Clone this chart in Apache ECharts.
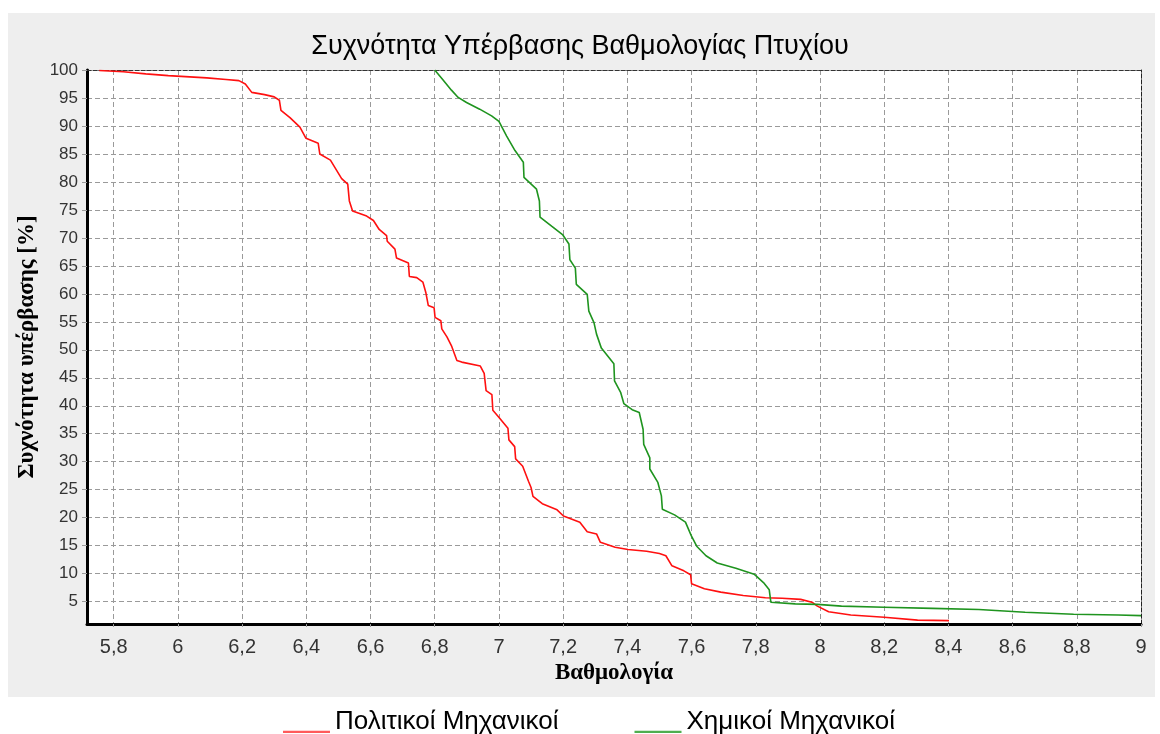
<!DOCTYPE html>
<html>
<head>
<meta charset="utf-8">
<script src="https://cdn.jsdelivr.net/npm/echarts/dist/echarts.min.js"></script>
<style>
  html, body { margin: 0; padding: 0; background: #fff; }
  #panel { position: absolute; left: 8px; top: 13px; width: 1147px; height: 684px; background: #eeeeee; }
  #chart { position: absolute; left: 0; top: 0; width: 1160px; height: 734px; }
</style>
</head>
<body>
<div id="panel"></div>
<div id="chart"></div>
<script>
// Πολιτικοί Μηχανικοί (red)
const redGrade = [5.755, 5.83, 5.90, 5.97, 6.09, 6.15, 6.19, 6.21, 6.23, 6.27, 6.30, 6.316, 6.321, 6.349, 6.38, 6.399,
  6.437, 6.442, 6.475, 6.51, 6.529, 6.534, 6.544, 6.588, 6.609, 6.627, 6.65, 6.652, 6.676, 6.681, 6.718, 6.721,
  6.744, 6.763, 6.772, 6.78, 6.798, 6.801, 6.819, 6.822, 6.838, 6.853, 6.869, 6.884, 6.942, 6.954, 6.96, 6.978,
  6.981, 6.999, 7.028, 7.031, 7.049, 7.052, 7.074, 7.092, 7.1, 7.106, 7.135, 7.181, 7.201, 7.252, 7.275, 7.304,
  7.316, 7.362, 7.402, 7.46, 7.5, 7.52, 7.539, 7.576, 7.597, 7.6, 7.64, 7.691, 7.761, 7.83, 7.882, 7.94,
  7.975, 7.992, 8.027, 8.096, 8.2, 8.304, 8.402];
const redPct = [99.9, 99.7, 99.3, 99.0, 98.6, 98.3, 98.1, 97.5, 96.0, 95.6, 95.2, 94.6, 92.8, 91.5, 89.8, 87.8,
  86.9, 85.0, 83.9, 80.6, 79.6, 76.6, 74.8, 73.9, 73.1, 71.5, 70.4, 69.4, 68.0, 66.4, 65.5, 63.1,
  62.9, 62.1, 60.3, 57.9, 57.5, 55.8, 55.2, 53.75, 52.3, 50.6, 48.1, 47.8, 47.1, 45.8, 42.7, 42.0,
  39.2, 38.0, 36.0, 33.9, 32.7, 30.5, 29.2, 26.5, 25.4, 23.8, 22.5, 21.4, 20.3, 19.2, 17.5, 17.1,
  15.6, 14.7, 14.3, 14.0, 13.6, 13.2, 11.4, 10.5, 9.8, 8.2, 7.3, 6.7, 6.1, 5.7, 5.6, 5.4,
  4.9, 4.2, 3.2, 2.6, 2.2, 1.7, 1.6];

// Χημικοί Μηχανικοί (green)
const greenGrade = [6.8, 6.826, 6.852, 6.873, 6.899, 6.94, 6.977, 7.0, 7.024, 7.05, 7.076, 7.078, 7.117, 7.126, 7.128, 7.164,
  7.198, 7.218, 7.221, 7.238, 7.241, 7.275, 7.28, 7.296, 7.304, 7.319, 7.358, 7.36, 7.379, 7.389, 7.415, 7.437,
  7.449, 7.451, 7.47, 7.47, 7.495, 7.506, 7.509, 7.547, 7.581, 7.599, 7.616, 7.645, 7.68, 7.738, 7.795, 7.824,
  7.842, 7.847, 7.923, 7.992, 8.067, 8.2, 8.35, 8.495, 8.639, 8.79, 8.929, 9.0];
const greenPct = [100, 98.2, 96.4, 95.1, 94.2, 93.0, 91.8, 90.8, 88.2, 85.6, 83.5, 80.8, 78.7, 76.6, 73.7, 72.1,
  70.6, 68.9, 66.1, 64.6, 61.7, 59.9, 56.9, 54.85, 52.8, 50.3, 47.5, 44.45, 42.4, 40.4, 39.3, 38.8,
  35.8, 33.1, 30.7, 28.7, 26.3, 23.9, 21.5, 20.5, 19.2, 16.8, 14.9, 13.2, 11.9, 10.95, 9.9, 8.4,
  7.1, 4.9, 4.6, 4.5, 4.2, 4.0, 3.8, 3.6, 3.1, 2.75, 2.6, 2.5];

const seriesNames = ['Πολιτικοί Μηχανικοί', 'Χημικοί Μηχανικοί'];
const titleText = 'Συχνότητα Υπέρβασης Βαθμολογίας Πτυχίου';
const xName = 'Βαθμολογία';
const yName = 'Συχνότητα υπέρβασης [%]';

const sans = '"Liberation Sans", Arial, sans-serif';
const serif = '"Liberation Serif", "Times New Roman", serif';
const gridDash = { color: '#9a9a9a', width: 1, type: [5, 3] };
const legendIcon = 'path://M0,0L0.01,0L0.01,0.01Z M0,18L40,18L40,20L0,20Z';

const chart = echarts.init(document.getElementById('chart'), null, { renderer: 'canvas' });

const option = {
  animation: false,
  backgroundColor: 'transparent',
  title: {
    text: titleText,
    left: 'center',
    top: 33,
    padding: 0,
    textStyle: { fontFamily: sans, fontSize: 27, fontWeight: 'normal', color: '#000' }
  },
  legend: {
    left: 278,
    top: 704,
    itemGap: 76,
    itemWidth: 47,
    itemHeight: 22,
    icon: legendIcon,
    symbolKeepAspect: false,
    textStyle: { fontFamily: sans, fontSize: 26, color: '#000' },
    data: [
      { name: seriesNames[0], itemStyle: { color: '#ff5a5a' } },
      { name: seriesNames[1], itemStyle: { color: '#4fae4f' } }
    ]
  },
  grid: {
    left: 87,
    right: 19,
    top: 70,
    bottom: 110,
    show: true,
    backgroundColor: '#fff',
    borderWidth: 0,
    containLabel: false,
    outerBoundsMode: 'none'
  },
  xAxis: [
    {
      type: 'value',
      min: 5.7168,
      max: 9,
      splitNumber: 16,
      minInterval: 0.2,
      maxInterval: 0.2,
      name: xName,
      nameLocation: 'middle',
      nameGap: 37,
      nameTextStyle: { fontFamily: serif, fontWeight: 'bold', fontSize: 23, color: '#000' },
      axisLine: { show: true, onZero: false, lineStyle: { color: '#000', width: 3 } },
      axisTick: { show: true, length: 5, lineStyle: { color: '#9a9a9a', type: [3, 2] } },
      axisLabel: {
        showMinLabel: false,
        margin: 13,
        fontFamily: sans, fontSize: 20, color: '#333',
        formatter: v => String(+v.toFixed(1)).replace('.', ',')
      },
      splitLine: { show: true, lineStyle: gridDash }
    },
    {
      type: 'value',
      position: 'top',
      min: 5.7168,
      max: 9,
      axisLine: { show: true, onZero: false, lineStyle: { color: '#333', width: 1, type: [4, 2] } },
      axisTick: { show: false },
      axisLabel: { show: false },
      splitLine: { show: false }
    }
  ],
  yAxis: [
    {
      type: 'value',
      min: 1,
      max: 100,
      splitNumber: 20,
      minInterval: 5,
      maxInterval: 5,
      name: yName,
      nameLocation: 'middle',
      nameGap: 41,
      nameTextStyle: { fontFamily: serif, fontWeight: 'bold', fontSize: 23, color: '#000' },
      axisLine: { show: true, onZero: false, lineStyle: { color: '#000', width: 3 } },
      axisTick: { show: true, length: 5, lineStyle: { color: '#9a9a9a' } },
      axisLabel: { showMinLabel: false, margin: 9, fontFamily: sans, fontSize: 17, color: '#333' },
      splitLine: { show: true, lineStyle: gridDash }
    },
    {
      type: 'value',
      position: 'right',
      min: 1,
      max: 100,
      axisLine: { show: true, onZero: false, lineStyle: { color: '#222', width: 1, type: [4, 2] } },
      axisTick: { show: false },
      axisLabel: { show: false },
      splitLine: { show: false }
    }
  ],
  series: [
    {
      name: seriesNames[0],
      type: 'line',
      symbol: 'none',
      color: '#ff1010',
      lineStyle: { width: 1.6, color: '#ff1010' },
      data: redGrade.map((g, i) => [g, redPct[i]]),
      z: 3
    },
    {
      name: seriesNames[1],
      type: 'line',
      symbol: 'none',
      color: '#1f941f',
      lineStyle: { width: 1.6, color: '#1f941f' },
      data: greenGrade.map((g, i) => [g, greenPct[i]]),
      z: 3
    }
  ]
};

chart.setOption(option);
</script>
</body>
</html>
